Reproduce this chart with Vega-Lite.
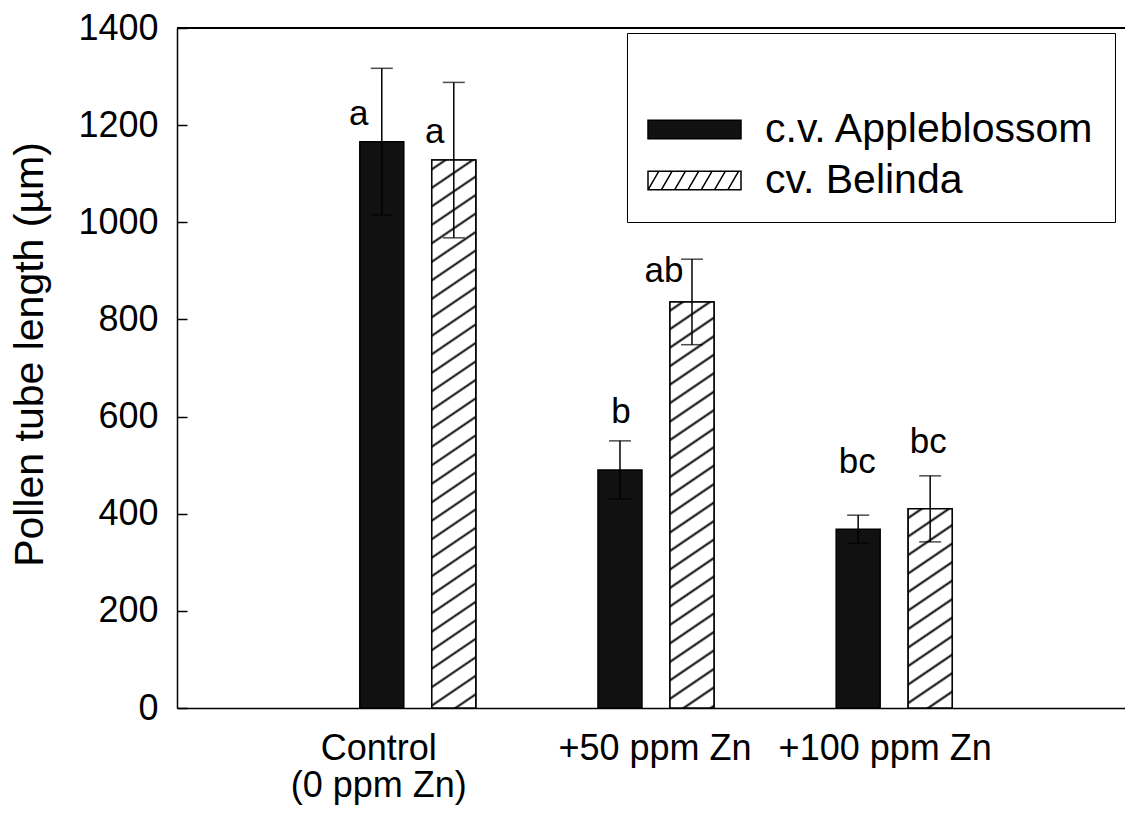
{
  "$schema": "https://vega.github.io/schema/vega-lite/v6.json",
  "width": 948,
  "height": 680,
  "autosize": {"type": "none"},
  "padding": {"left": 177, "top": 28, "right": 0, "bottom": 105},
  "background": "white",
  "config": {
    "view": {"stroke": null},
    "font": "Liberation Sans",
    "axis": {"domainColor": "black", "domainWidth": 1.5, "tickColor": "black", "labelColor": "black", "titleColor": "black", "grid": false, "labelFont": "Liberation Sans", "titleFont": "Liberation Sans"},
    "legend": {
      "titleFontSize": 30, "titlePadding": 25,
      "padding": 20, "strokeColor": "black", "clipHeight": 43,
      "labelFontSize": 41, "labelFont": "Liberation Sans", "labelColor": "black", "labelOffset": 23, "labelLimit": 0,
      "symbolSize": 8649, "symbolStrokeColor": "black", "symbolStrokeWidth": 1.5, "symbolOpacity": 1, "rowPadding": 8
    }
  },
  "data": {
    "values": [
      {"treatment": "Control (0 ppm Zn)", "cultivar": "c.v. Appleblossom", "mean": 1166, "lower": 1015, "upper": 1317, "letter": "a"},
      {"treatment": "Control (0 ppm Zn)", "cultivar": "cv. Belinda", "mean": 1128, "lower": 968, "upper": 1288, "letter": "a"},
      {"treatment": "+50 ppm Zn", "cultivar": "c.v. Appleblossom", "mean": 490, "lower": 430, "upper": 550, "letter": "b"},
      {"treatment": "+50 ppm Zn", "cultivar": "cv. Belinda", "mean": 836, "lower": 748, "upper": 924, "letter": "ab"},
      {"treatment": "+100 ppm Zn", "cultivar": "c.v. Appleblossom", "mean": 368, "lower": 339, "upper": 397, "letter": "bc"},
      {"treatment": "+100 ppm Zn", "cultivar": "cv. Belinda", "mean": 410, "lower": 342, "upper": 478, "letter": "bc"}
    ]
  },
  "layer": [
    {
      "mark": {"type": "bar", "stroke": "black", "strokeWidth": 1.5},
      "encoding": {
        "x": {
          "field": "treatment", "type": "nominal",
          "sort": ["Control (0 ppm Zn)", "+50 ppm Zn", "+100 ppm Zn"],
          "scale": {"paddingInner": 0.513, "paddingOuter": 0.7465, "align": 0.514},
          "axis": {
            "title": null, "ticks": false, "labelAngle": 0, "labelFontSize": 36, "labelLineHeight": 37,
            "labelPadding": 23, "labelLimit": 0,
            "labelExpr": "datum.value === 'Control (0 ppm Zn)' ? ['Control', '(0 ppm Zn)'] : datum.value",
            "labelOffset": {"condition": [{"test": "datum.value === 'Control (0 ppm Zn)'", "value": -39}, {"test": "datum.value === '+100 ppm Zn'", "value": -9}], "value": -1}
          }
        },
        "xOffset": {"field": "cultivar", "type": "nominal", "sort": ["c.v. Appleblossom", "cv. Belinda"], "scale": {"paddingInner": 0.389, "paddingOuter": 0}},
        "y": {
          "field": "mean", "type": "quantitative",
          "scale": {"domain": [0, 1400], "nice": false},
          "axis": {
            "values": [0, 200, 400, 600, 800, 1000, 1200, 1400], "format": "d",
            "tickSize": -10, "tickWidth": 1.5, "labelFontSize": 36, "labelPadding": 29,
            "title": "Pollen tube length (µm)", "titleFontSize": 41, "titleFontWeight": "normal", "titleLimit": 1000,
            "titleX": -135, "titleY": 326, "titleAngle": 270, "titleBaseline": "alphabetic", "titleAlign": "center"
          }
        },
        "fill": {
          "field": "cultivar", "type": "nominal",
          "scale": {"domain": ["c.v. Appleblossom", "cv. Belinda"], "range": ["#111111", "#ffffff"]},
          "legend": {"title": " ", "orient": "none", "legendX": 450, "legendY": 5}
        }
      }
    },
    {
      "mark": {"type": "point", "filled": true, "strokeWidth": 1.5, "opacity": 0},
      "encoding": {
        "x": {"field": "treatment", "type": "nominal", "sort": ["Control (0 ppm Zn)", "+50 ppm Zn", "+100 ppm Zn"]},
        "xOffset": {"field": "cultivar", "type": "nominal", "sort": ["c.v. Appleblossom", "cv. Belinda"]},
        "y": {"field": "mean", "type": "quantitative"},
        "fill": {"field": "cultivar", "type": "nominal", "legend": {"title": " ", "orient": "none", "legendX": 450, "legendY": 5}},
        "stroke": {
          "field": "cultivar", "type": "nominal",
          "scale": {"domain": ["c.v. Appleblossom", "cv. Belinda"], "range": ["#000000", "#000000"]},
          "legend": {"title": " ", "orient": "none", "legendX": 450, "legendY": 5}
        },
        "shape": {
          "field": "cultivar", "type": "nominal",
          "scale": {"domain": ["c.v. Appleblossom", "cv. Belinda"], "range": [
            "M-1,-0.2H1V0.2H-1Z",
            "M-1,-0.2H1V0.2H-1Z M-1,0.2L-0.766,-0.2 M-0.714,0.2L-0.48,-0.2 M-0.428,0.2L-0.194,-0.2 M-0.142,0.2L0.092,-0.2 M0.144,0.2L0.378,-0.2 M0.43,0.2L0.664,-0.2 M0.716,0.2L0.95,-0.2"
          ]},
          "legend": {"title": " ", "orient": "none", "legendX": 450, "legendY": 5}
        }
      }
    },
    {
      "transform": [{"filter": "datum.cultivar === 'cv. Belinda' && datum.treatment === 'Control (0 ppm Zn)'"}],
      "mark": {"type": "bar", "stroke": "black", "strokeWidth": 1.5,
        "fill": {"gradient": "linear", "x1": 0, "y1": 0, "x2": 0.0574, "y2": 1.0516, "stops": [
          {"offset": 0.012, "color": "white"}, {"offset": 0.016, "color": "black"}, {"offset": 0.020, "color": "white"},
          {"offset": 0.044, "color": "white"}, {"offset": 0.048, "color": "black"}, {"offset": 0.052, "color": "white"},
          {"offset": 0.076, "color": "white"}, {"offset": 0.080, "color": "black"}, {"offset": 0.084, "color": "white"},
          {"offset": 0.108, "color": "white"}, {"offset": 0.112, "color": "black"}, {"offset": 0.116, "color": "white"},
          {"offset": 0.140, "color": "white"}, {"offset": 0.144, "color": "black"}, {"offset": 0.148, "color": "white"},
          {"offset": 0.172, "color": "white"}, {"offset": 0.176, "color": "black"}, {"offset": 0.180, "color": "white"},
          {"offset": 0.204, "color": "white"}, {"offset": 0.208, "color": "black"}, {"offset": 0.212, "color": "white"},
          {"offset": 0.236, "color": "white"}, {"offset": 0.240, "color": "black"}, {"offset": 0.244, "color": "white"},
          {"offset": 0.268, "color": "white"}, {"offset": 0.272, "color": "black"}, {"offset": 0.276, "color": "white"},
          {"offset": 0.300, "color": "white"}, {"offset": 0.304, "color": "black"}, {"offset": 0.308, "color": "white"},
          {"offset": 0.332, "color": "white"}, {"offset": 0.336, "color": "black"}, {"offset": 0.340, "color": "white"},
          {"offset": 0.364, "color": "white"}, {"offset": 0.368, "color": "black"}, {"offset": 0.372, "color": "white"},
          {"offset": 0.396, "color": "white"}, {"offset": 0.400, "color": "black"}, {"offset": 0.404, "color": "white"},
          {"offset": 0.428, "color": "white"}, {"offset": 0.432, "color": "black"}, {"offset": 0.436, "color": "white"},
          {"offset": 0.460, "color": "white"}, {"offset": 0.464, "color": "black"}, {"offset": 0.468, "color": "white"},
          {"offset": 0.492, "color": "white"}, {"offset": 0.496, "color": "black"}, {"offset": 0.500, "color": "white"},
          {"offset": 0.524, "color": "white"}, {"offset": 0.528, "color": "black"}, {"offset": 0.532, "color": "white"},
          {"offset": 0.556, "color": "white"}, {"offset": 0.560, "color": "black"}, {"offset": 0.564, "color": "white"},
          {"offset": 0.588, "color": "white"}, {"offset": 0.592, "color": "black"}, {"offset": 0.596, "color": "white"},
          {"offset": 0.620, "color": "white"}, {"offset": 0.624, "color": "black"}, {"offset": 0.628, "color": "white"},
          {"offset": 0.652, "color": "white"}, {"offset": 0.656, "color": "black"}, {"offset": 0.660, "color": "white"},
          {"offset": 0.684, "color": "white"}, {"offset": 0.688, "color": "black"}, {"offset": 0.692, "color": "white"},
          {"offset": 0.716, "color": "white"}, {"offset": 0.720, "color": "black"}, {"offset": 0.724, "color": "white"},
          {"offset": 0.748, "color": "white"}, {"offset": 0.752, "color": "black"}, {"offset": 0.756, "color": "white"},
          {"offset": 0.780, "color": "white"}, {"offset": 0.784, "color": "black"}, {"offset": 0.788, "color": "white"},
          {"offset": 0.812, "color": "white"}, {"offset": 0.816, "color": "black"}, {"offset": 0.820, "color": "white"},
          {"offset": 0.844, "color": "white"}, {"offset": 0.848, "color": "black"}, {"offset": 0.852, "color": "white"},
          {"offset": 0.876, "color": "white"}, {"offset": 0.880, "color": "black"}, {"offset": 0.884, "color": "white"},
          {"offset": 0.908, "color": "white"}, {"offset": 0.912, "color": "black"}, {"offset": 0.916, "color": "white"},
          {"offset": 0.940, "color": "white"}, {"offset": 0.944, "color": "black"}, {"offset": 0.948, "color": "white"},
          {"offset": 0.972, "color": "white"}, {"offset": 0.976, "color": "black"}, {"offset": 0.980, "color": "white"}
        ]}},
      "encoding": {
        "x": {"field": "treatment", "type": "nominal", "sort": ["Control (0 ppm Zn)", "+50 ppm Zn", "+100 ppm Zn"]},
        "xOffset": {"field": "cultivar", "type": "nominal", "sort": ["c.v. Appleblossom", "cv. Belinda"]},
        "y": {"field": "mean", "type": "quantitative"}
      }
    },
    {
      "transform": [{"filter": "datum.cultivar === 'cv. Belinda' && datum.treatment === '+50 ppm Zn'"}],
      "mark": {"type": "bar", "stroke": "black", "strokeWidth": 1.5,
        "fill": {"gradient": "linear", "x1": 0, "y1": 0, "x2": 0.0787, "y2": 1.0678, "stops": [
          {"offset": 0.0145, "color": "white"}, {"offset": 0.020, "color": "black"}, {"offset": 0.0255, "color": "white"},
          {"offset": 0.0569, "color": "white"}, {"offset": 0.0624, "color": "black"}, {"offset": 0.0679, "color": "white"},
          {"offset": 0.0993, "color": "white"}, {"offset": 0.1048, "color": "black"}, {"offset": 0.1103, "color": "white"},
          {"offset": 0.1417, "color": "white"}, {"offset": 0.1472, "color": "black"}, {"offset": 0.1527, "color": "white"},
          {"offset": 0.1841, "color": "white"}, {"offset": 0.1896, "color": "black"}, {"offset": 0.1951, "color": "white"},
          {"offset": 0.2265, "color": "white"}, {"offset": 0.232, "color": "black"}, {"offset": 0.2375, "color": "white"},
          {"offset": 0.2689, "color": "white"}, {"offset": 0.2744, "color": "black"}, {"offset": 0.2799, "color": "white"},
          {"offset": 0.3113, "color": "white"}, {"offset": 0.3168, "color": "black"}, {"offset": 0.3223, "color": "white"},
          {"offset": 0.3537, "color": "white"}, {"offset": 0.3592, "color": "black"}, {"offset": 0.3647, "color": "white"},
          {"offset": 0.3961, "color": "white"}, {"offset": 0.4016, "color": "black"}, {"offset": 0.4071, "color": "white"},
          {"offset": 0.4385, "color": "white"}, {"offset": 0.444, "color": "black"}, {"offset": 0.4495, "color": "white"},
          {"offset": 0.4809, "color": "white"}, {"offset": 0.4864, "color": "black"}, {"offset": 0.4919, "color": "white"},
          {"offset": 0.5233, "color": "white"}, {"offset": 0.5288, "color": "black"}, {"offset": 0.5343, "color": "white"},
          {"offset": 0.5657, "color": "white"}, {"offset": 0.5712, "color": "black"}, {"offset": 0.5767, "color": "white"},
          {"offset": 0.6081, "color": "white"}, {"offset": 0.6136, "color": "black"}, {"offset": 0.6191, "color": "white"},
          {"offset": 0.6505, "color": "white"}, {"offset": 0.656, "color": "black"}, {"offset": 0.6615, "color": "white"},
          {"offset": 0.6929, "color": "white"}, {"offset": 0.6984, "color": "black"}, {"offset": 0.7039, "color": "white"},
          {"offset": 0.7353, "color": "white"}, {"offset": 0.7408, "color": "black"}, {"offset": 0.7463, "color": "white"},
          {"offset": 0.7777, "color": "white"}, {"offset": 0.7832, "color": "black"}, {"offset": 0.7887, "color": "white"},
          {"offset": 0.8201, "color": "white"}, {"offset": 0.8256, "color": "black"}, {"offset": 0.8311, "color": "white"},
          {"offset": 0.8625, "color": "white"}, {"offset": 0.868, "color": "black"}, {"offset": 0.8735, "color": "white"},
          {"offset": 0.9049, "color": "white"}, {"offset": 0.9104, "color": "black"}, {"offset": 0.9159, "color": "white"},
          {"offset": 0.9473, "color": "white"}, {"offset": 0.9528, "color": "black"}, {"offset": 0.9583, "color": "white"},
          {"offset": 0.9897, "color": "white"}, {"offset": 0.9952, "color": "black"}, {"offset": 1.0, "color": "white"}
        ]}},
      "encoding": {
        "x": {"field": "treatment", "type": "nominal", "sort": ["Control (0 ppm Zn)", "+50 ppm Zn", "+100 ppm Zn"]},
        "xOffset": {"field": "cultivar", "type": "nominal", "sort": ["c.v. Appleblossom", "cv. Belinda"]},
        "y": {"field": "mean", "type": "quantitative"}
      }
    },
    {
      "transform": [{"filter": "datum.cultivar === 'cv. Belinda' && datum.treatment === '+100 ppm Zn'"}],
      "mark": {"type": "bar", "stroke": "black", "strokeWidth": 1.5,
        "fill": {"gradient": "linear", "x1": 0, "y1": 0, "x2": 0.1690, "y2": 1.1248, "stops": [
          {"offset": 0.0295, "color": "white"}, {"offset": 0.04, "color": "black"}, {"offset": 0.0505, "color": "white"},
          {"offset": 0.1103, "color": "white"}, {"offset": 0.1208, "color": "black"}, {"offset": 0.1313, "color": "white"},
          {"offset": 0.1911, "color": "white"}, {"offset": 0.2016, "color": "black"}, {"offset": 0.2121, "color": "white"},
          {"offset": 0.2719, "color": "white"}, {"offset": 0.2824, "color": "black"}, {"offset": 0.2929, "color": "white"},
          {"offset": 0.3527, "color": "white"}, {"offset": 0.3632, "color": "black"}, {"offset": 0.3737, "color": "white"},
          {"offset": 0.4335, "color": "white"}, {"offset": 0.444, "color": "black"}, {"offset": 0.4545, "color": "white"},
          {"offset": 0.5143, "color": "white"}, {"offset": 0.5248, "color": "black"}, {"offset": 0.5353, "color": "white"},
          {"offset": 0.5951, "color": "white"}, {"offset": 0.6056, "color": "black"}, {"offset": 0.6161, "color": "white"},
          {"offset": 0.6759, "color": "white"}, {"offset": 0.6864, "color": "black"}, {"offset": 0.6969, "color": "white"},
          {"offset": 0.7567, "color": "white"}, {"offset": 0.7672, "color": "black"}, {"offset": 0.7777, "color": "white"},
          {"offset": 0.8375, "color": "white"}, {"offset": 0.848, "color": "black"}, {"offset": 0.8585, "color": "white"},
          {"offset": 0.9183, "color": "white"}, {"offset": 0.9288, "color": "black"}, {"offset": 0.9393, "color": "white"}
        ]}},
      "encoding": {
        "x": {"field": "treatment", "type": "nominal", "sort": ["Control (0 ppm Zn)", "+50 ppm Zn", "+100 ppm Zn"]},
        "xOffset": {"field": "cultivar", "type": "nominal", "sort": ["c.v. Appleblossom", "cv. Belinda"]},
        "y": {"field": "mean", "type": "quantitative"}
      }
    },
    {
      "mark": {"type": "rule", "stroke": "black", "strokeWidth": 1.5},
      "encoding": {
        "x": {"field": "treatment", "type": "nominal", "sort": ["Control (0 ppm Zn)", "+50 ppm Zn", "+100 ppm Zn"]},
        "xOffset": {"field": "cultivar", "type": "nominal", "sort": ["c.v. Appleblossom", "cv. Belinda"]},
        "y": {"field": "lower", "type": "quantitative"},
        "y2": {"field": "upper"}
      }
    },
    {
      "mark": {"type": "tick", "color": "black", "thickness": 1.5, "size": 22},
      "encoding": {
        "x": {"field": "treatment", "type": "nominal", "sort": ["Control (0 ppm Zn)", "+50 ppm Zn", "+100 ppm Zn"]},
        "xOffset": {"field": "cultivar", "type": "nominal", "sort": ["c.v. Appleblossom", "cv. Belinda"]},
        "y": {"field": "upper", "type": "quantitative"}
      }
    },
    {
      "mark": {"type": "tick", "color": "black", "thickness": 1.5, "size": 22},
      "encoding": {
        "x": {"field": "treatment", "type": "nominal", "sort": ["Control (0 ppm Zn)", "+50 ppm Zn", "+100 ppm Zn"]},
        "xOffset": {"field": "cultivar", "type": "nominal", "sort": ["c.v. Appleblossom", "cv. Belinda"]},
        "y": {"field": "lower", "type": "quantitative"}
      }
    },
    {
      "mark": {
        "type": "text", "fontSize": 35, "font": "Liberation Sans", "color": "black", "align": "center", "baseline": "alphabetic",
        "dx": {"expr": "datum.treatment === 'Control (0 ppm Zn)' ? (datum.cultivar === 'cv. Belinda' ? -19 : -23) : datum.treatment === '+50 ppm Zn' ? (datum.cultivar === 'cv. Belinda' ? -28 : 1) : (datum.cultivar === 'cv. Belinda' ? -2 : -1)"},
        "dy": {"expr": "datum.treatment === 'Control (0 ppm Zn)' ? (datum.cultivar === 'cv. Belinda' ? 61 : 57) : datum.treatment === '+50 ppm Zn' ? (datum.cultivar === 'cv. Belinda' ? 23 : -18) : (datum.cultivar === 'cv. Belinda' ? -23 : -42)"}
      },
      "encoding": {
        "x": {"field": "treatment", "type": "nominal", "sort": ["Control (0 ppm Zn)", "+50 ppm Zn", "+100 ppm Zn"]},
        "xOffset": {"field": "cultivar", "type": "nominal", "sort": ["c.v. Appleblossom", "cv. Belinda"]},
        "y": {"field": "upper", "type": "quantitative"},
        "text": {"field": "letter"}
      }
    },
    {
      "mark": {"type": "rule", "stroke": "black", "strokeWidth": 1.5},
      "encoding": {"y": {"datum": 1400}}
    }
  ]
}
